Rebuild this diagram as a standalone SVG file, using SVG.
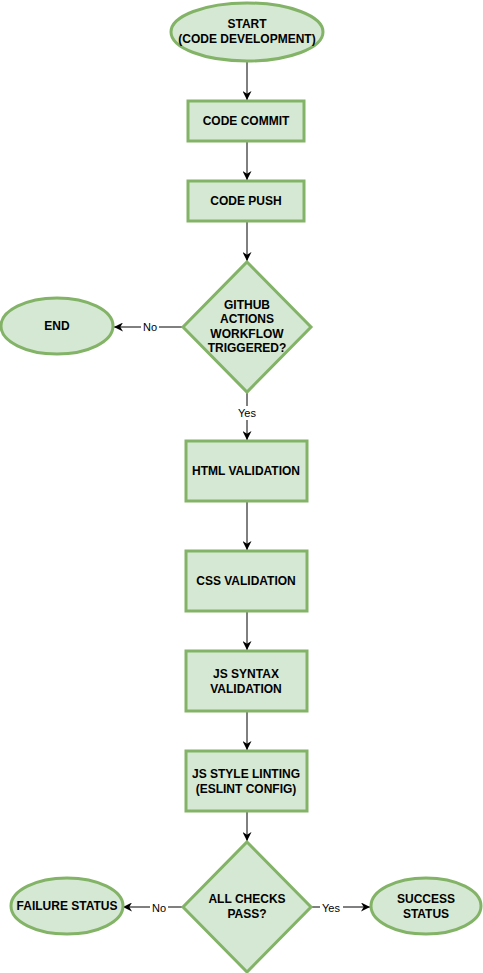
<svg xmlns="http://www.w3.org/2000/svg" width="483" height="973" viewBox="0 0 483 973">
<defs>
<marker id="arr" viewBox="0 0 10 10" refX="10" refY="5" markerWidth="9" markerHeight="9" markerUnits="userSpaceOnUse" orient="auto">
<path d="M0,0 L10,5 L0,10 L3,5 Z" fill="#000"/>
</marker>
<style>
.n{fill:#d5e8d4;stroke:#82b366;stroke-width:3}
.t{font-family:"Liberation Sans",Arial,Helvetica,sans-serif;font-size:12px;font-weight:bold;fill:#000;text-anchor:middle;dominant-baseline:central}
.e{stroke:#000;stroke-width:1;fill:none;marker-end:url(#arr)}
.l{font-family:"Liberation Sans",Arial,Helvetica,sans-serif;font-size:11px;fill:#000;text-anchor:middle;dominant-baseline:central}
.lb{fill:#fff}
</style>
</defs>
<rect width="483" height="973" fill="#fff"/>
<g id="connectors">
<path class="e" d="M247,62 L247,100"/>
<path class="e" d="M247,142 L247,180"/>
<path class="e" d="M247,222 L247,261"/>
<path class="e" d="M183,327 L114,327"/>
<path class="e" d="M247,392 L247,440"/>
<path class="e" d="M247,502 L247,550"/>
<path class="e" d="M247,612 L247,650"/>
<path class="e" d="M247,712 L247,750"/>
<path class="e" d="M247,812 L247,841"/>
<path class="e" d="M183,907 L123,907"/>
<path class="e" d="M311,907 L370,907"/>
<rect class="lb" x="141" y="320" width="18" height="14"/>
<text class="l" x="150" y="327">No</text>
<rect class="lb" x="236" y="406" width="22" height="14"/>
<text class="l" x="247" y="413">Yes</text>
<rect class="lb" x="150" y="900" width="18" height="14"/>
<text class="l" x="159" y="908">No</text>
<rect class="lb" x="320" y="900" width="23" height="14"/>
<text class="l" x="331" y="908">Yes</text>
</g>
<g id="start">
<ellipse class="n" cx="247" cy="32" rx="76" ry="29"/>
<text class="t" x="247" y="24">START</text>
<text class="t" x="247" y="39">(CODE DEVELOPMENT)</text>
</g>
<g id="commit">
<rect class="n" x="188" y="101" width="116" height="40"/>
<text class="t" x="246" y="121">CODE COMMIT</text>
</g>
<g id="push">
<rect class="n" x="188" y="181" width="116" height="40"/>
<text class="t" x="246" y="201">CODE PUSH</text>
</g>
<g id="triggered">
<path class="n" d="M247,262 L311,327 L247,392 L183,327 Z"/>
<text class="t" x="247" y="305">GITHUB</text>
<text class="t" x="247" y="319">ACTIONS</text>
<text class="t" x="247" y="334">WORKFLOW</text>
<text class="t" x="247" y="348">TRIGGERED?</text>
</g>
<g id="end">
<ellipse class="n" cx="57" cy="326" rx="56" ry="28"/>
<text class="t" x="57" y="326">END</text>
</g>
<g id="html">
<rect class="n" x="186" y="441" width="121" height="60"/>
<text class="t" x="246" y="471">HTML VALIDATION</text>
</g>
<g id="css">
<rect class="n" x="186" y="551" width="121" height="60"/>
<text class="t" x="246" y="581">CSS VALIDATION</text>
</g>
<g id="jssyntax">
<rect class="n" x="186" y="651" width="121" height="60"/>
<text class="t" x="246" y="674">JS SYNTAX</text>
<text class="t" x="246" y="689">VALIDATION</text>
</g>
<g id="jsstyle">
<rect class="n" x="186" y="751" width="121" height="60"/>
<text class="t" x="246" y="774">JS STYLE LINTING</text>
<text class="t" x="246" y="789">(ESLINT CONFIG)</text>
</g>
<g id="allchecks">
<path class="n" d="M247,842 L311,907 L247,972 L183,907 Z"/>
<text class="t" x="247" y="899">ALL CHECKS</text>
<text class="t" x="247" y="914">PASS?</text>
</g>
<g id="failure">
<ellipse class="n" cx="67" cy="906" rx="56" ry="28"/>
<text class="t" x="67" y="906">FAILURE STATUS</text>
</g>
<g id="success">
<ellipse class="n" cx="426" cy="906" rx="55" ry="28"/>
<text class="t" x="426" y="899">SUCCESS</text>
<text class="t" x="426" y="914">STATUS</text>
</g>
</svg>
